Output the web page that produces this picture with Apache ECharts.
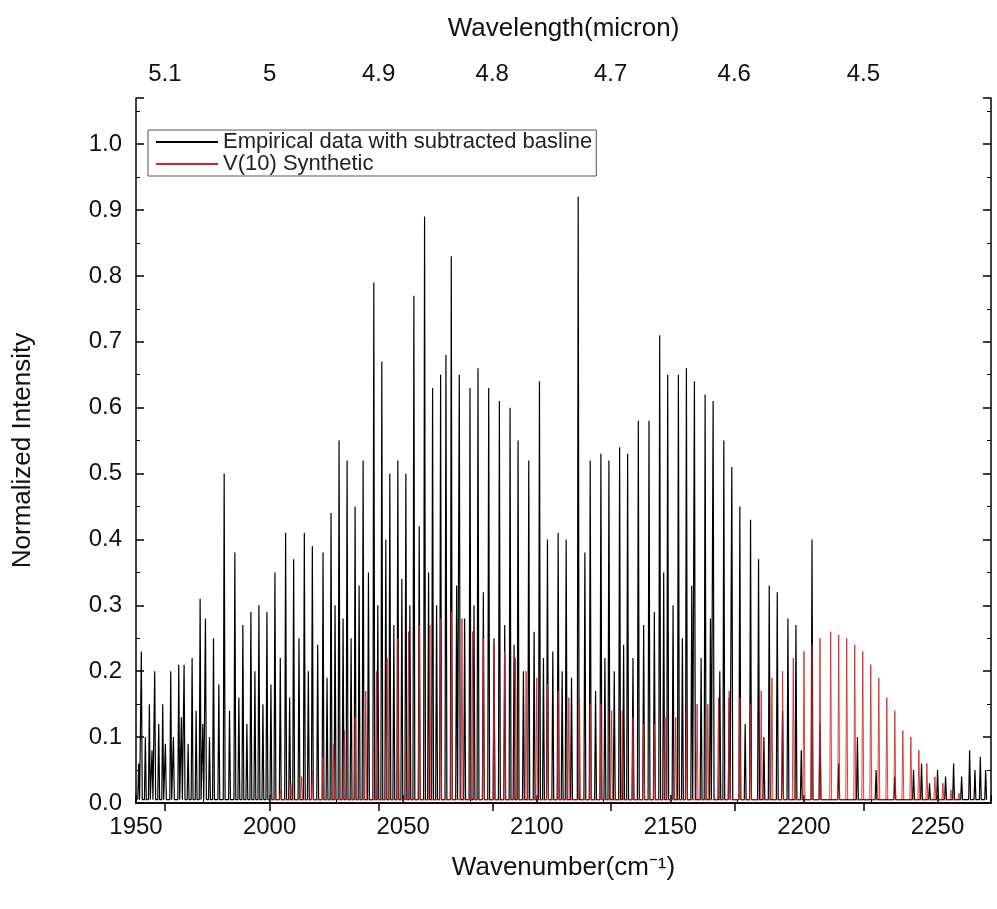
<!DOCTYPE html>
<html>
<head>
<meta charset="utf-8">
<script src="https://cdn.jsdelivr.net/npm/echarts@6/dist/echarts.min.js"></script>
<style>html,body{margin:0;background:#fff}#chart{width:997px;height:909px}</style>
</head>
<body>
<div id="chart"></div>
<script>
// 主要谱线（波数, 强度）
const blackPos = [1952,1955,1957,1960,1963,1966,1968,1971,1974,1976,1979,1983,1987,1990,1993,1996,1999,2002,2006,2009,2013,2016,2020,2023,2026,2029,2032,2035,2039,2042,2045,2048,2051,2054,2058,2061,2064,2066,2068,2071,2075,2078,2082,2086,2090,2093,2097,2101,2104,2108,2111,2115.5,2118,2120,2124,2127,2131,2134,2138,2142,2146,2149,2153,2156,2159,2163,2166,2170,2173,2176,2180,2183,2187,2190,2194,2197,2203];
const blackVal = [0.23,0.15,0.2,0.15,0.2,0.21,0.21,0.22,0.31,0.28,0.25,0.5,0.38,0.27,0.29,0.3,0.29,0.35,0.41,0.37,0.41,0.39,0.38,0.44,0.55,0.52,0.45,0.52,0.79,0.67,0.5,0.52,0.5,0.77,0.89,0.63,0.65,0.68,0.83,0.65,0.63,0.66,0.63,0.61,0.6,0.55,0.52,0.64,0.4,0.41,0.4,0.92,0.38,0.52,0.53,0.52,0.54,0.53,0.58,0.58,0.71,0.65,0.65,0.66,0.64,0.62,0.61,0.55,0.51,0.45,0.43,0.37,0.33,0.32,0.28,0.27,0.4];
// 次要谱线
const minorPos = [1951,1953.5,1956,1958.5,1961,1964,1967,1969.5,1972.5,1975,1977.5,1981,1985,1988.5,1991.5,1994.5,1997.5,2000.5,2004,2007.5,2011,2014.5,2018,2021.5,2024.5,2027.5,2030.5,2033.5,2037,2040.5,2043.5,2046.5,2049.5,2052.5,2056,2059.5,2062.5,2070,2073,2076.5,2080,2084,2088,2091.5,2095,2099,2102.5,2106,2109.5,2113,2122,2125.5,2129,2132.5,2136,2140,2144,2147.5,2151,2154.5,2158,2161.5,2165,2168.5,2172,2178,2185,2192,2199,2206,2213,2220,2227,2234,2241,2244,2247,2250,2253,2256,2259,2262,2264,2266,2268];
const minorVal = [0.06,0.1,0.08,0.12,0.09,0.1,0.13,0.09,0.14,0.12,0.1,0.18,0.14,0.16,0.12,0.2,0.15,0.18,0.22,0.16,0.25,0.2,0.24,0.19,0.3,0.28,0.25,0.33,0.35,0.3,0.4,0.27,0.34,0.3,0.42,0.35,0.3,0.33,0.28,0.3,0.32,0.25,0.27,0.24,0.2,0.26,0.22,0.23,0.2,0.19,0.17,0.22,0.2,0.24,0.22,0.27,0.29,0.35,0.3,0.25,0.33,0.22,0.28,0.2,0.16,0.12,0.1,0.14,0.08,0.12,0.06,0.1,0.05,0.04,0.05,0.06,0.03,0.05,0.04,0.06,0.04,0.08,0.05,0.07,0.05];
// 合成谱 V(10)
const redPos = [2000,2004,2008,2012,2016,2020,2024,2028,2032,2036,2040,2044,2048,2052,2056,2060,2064,2068,2072,2076,2080,2084,2088,2092,2096,2100,2104,2108,2112,2116,2120,2124,2128,2132,2136,2140,2144,2148,2152,2156,2160,2164,2168,2172,2176,2180,2184,2188,2192,2196,2200,2203,2206,2210,2213,2216,2219,2222,2225,2228,2231,2234,2237,2240,2243,2246,2249,2252,2255,2258];
const redVal = [0.01,0.02,0.03,0.04,0.05,0.07,0.09,0.11,0.13,0.17,0.2,0.22,0.25,0.26,0.27,0.27,0.28,0.29,0.28,0.26,0.25,0.24,0.23,0.22,0.2,0.19,0.18,0.17,0.16,0.16,0.15,0.15,0.14,0.14,0.13,0.12,0.12,0.13,0.13,0.14,0.15,0.15,0.16,0.17,0.16,0.15,0.17,0.19,0.2,0.22,0.23,0.24,0.25,0.26,0.255,0.25,0.24,0.23,0.21,0.19,0.16,0.14,0.11,0.1,0.08,0.06,0.04,0.03,0.02,0.015];
const micronTicks = [5.1,5,4.9,4.8,4.7,4.6,4.5];

function sticks(posLists, valLists) {
    let pts = [];
    posLists.forEach((pos, k) => {
        pos.forEach((x, i) => pts.push([x, valLists[k][i]]));
    });
    pts.sort((a, b) => a[0] - b[0]);
    let out = [];
    pts.forEach(p => {
        out.push([p[0] - 0.35, 0.005]);
        out.push(p);
        out.push([p[0] + 0.35, 0.005]);
    });
    return out;
}

let chart = echarts.init(document.getElementById('chart'));
const font = 'Liberation Sans, Arial, sans-serif';
const axisLine = {show: true, lineStyle: {color: '#000', width: 1.5}};
let option = {
    animation: false,
    grid: {left: 136, right: 6, top: 98, bottom: 106},
    legend: {
        left: 148, top: 130, orient: 'vertical',
        borderColor: '#555', borderWidth: 1, padding: [1, 4, 1, 8], itemGap: 0,
        itemWidth: 62, itemHeight: 2, icon: 'rect',
        textStyle: {fontFamily: font, fontSize: 22, color: '#222'},
        data: ['Empirical data with subtracted basline', 'V(10) Synthetic']
    },
    xAxis: [{
        type: 'value', min: 1950, max: 2270, interval: 50, position: 'bottom',
        name: 'Wavenumber(cm⁻¹)', nameLocation: 'middle', nameGap: 52,
        nameTextStyle: {fontFamily: font, fontSize: 26, color: '#111'},
        axisLine: axisLine,
        axisTick: {inside: true, length: 8, lineStyle: {color: '#000', width: 1.5}},
        minorTick: {show: true, splitNumber: 2, length: 4, lineStyle: {color: '#000'}},
        axisLabel: {fontFamily: font, fontSize: 24, color: '#111', margin: 12, showMaxLabel: false,
            formatter: v => String(v)},
        splitLine: {show: false}
    }, {
        type: 'value', min: 1950, max: 2270, position: 'top',
        name: 'Wavelength(micron)', nameLocation: 'middle', nameGap: 56,
        nameTextStyle: {fontFamily: font, fontSize: 26, color: '#111'},
        axisLine: axisLine,
        axisTick: {inside: true, length: 8, customValues: micronTicks.map(m => 10000 / m), lineStyle: {color: '#000', width: 1.5}},
        axisLabel: {fontFamily: font, fontSize: 24, color: '#111', margin: 12,
            customValues: micronTicks.map(m => 10000 / m),
            formatter: v => String(Math.round(10000 / v * 10) / 10)},
        splitLine: {show: false}
    }],
    yAxis: [{
        type: 'value', min: 0, max: 1.07, interval: 0.1,
        name: 'Normalized Intensity', nameLocation: 'middle', nameGap: 100,
        nameTextStyle: {fontFamily: font, fontSize: 26, color: '#111'},
        axisLine: axisLine,
        axisTick: {inside: true, length: 8, lineStyle: {color: '#000', width: 1.5}},
        minorTick: {show: true, splitNumber: 2, length: 4, lineStyle: {color: '#000'}},
        axisLabel: {fontFamily: font, fontSize: 24, color: '#111', margin: 14,
            formatter: v => v > 1.01 ? '' : v.toFixed(1)},
        splitLine: {show: false}
    }, {
        type: 'value', min: 0, max: 1.07, interval: 0.1, position: 'right',
        axisLine: axisLine,
        axisTick: {inside: true, length: 8, lineStyle: {color: '#000', width: 1.5}},
        minorTick: {show: true, splitNumber: 2, length: 4, lineStyle: {color: '#000'}},
        axisLabel: {show: false}, splitLine: {show: false}
    }],
    series: [
        {
            name: 'Empirical data with subtracted basline', type: 'line', showSymbol: false,
            sampling: false, color: '#000', lineStyle: {width: 1.2, color: '#000'},
            data: sticks([blackPos, minorPos], [blackVal, minorVal])
        },
        {
            name: 'V(10) Synthetic', type: 'line', showSymbol: false,
            color: '#d42020', lineStyle: {width: 1, color: '#d42020', opacity: 0.85},
            data: sticks([redPos], [redVal])
        }
    ]
};
chart.setOption(option);
</script>
</body>
</html>
